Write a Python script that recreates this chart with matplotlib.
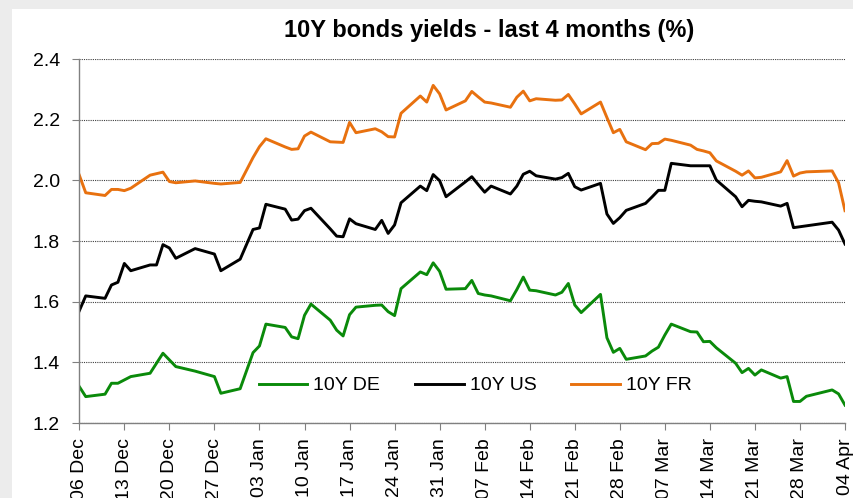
"""10Y bond yields, last 4 months."""

import matplotlib.pyplot as plt
import matplotlib.dates as mdates
import pandas as pd

plt.rcParams["font.family"] = ["Liberation Sans", "DejaVu Sans"]

start = "2012-12-06"
# trading days, counted from 06 Dec 2012
days = [0, 1, 4, 5, 6, 7, 8, 11, 12, 13, 14, 15, 18, 21, 22, 25, 27, 28, 29,
        32, 33, 34, 35, 36, 39, 40, 41, 42, 43, 46, 47, 48, 49, 50, 53, 54,
        55, 56, 57, 60, 61, 62, 63, 64, 67, 68, 69, 70, 71, 74, 75, 76, 77,
        78, 81, 82, 83, 84, 85, 88, 89, 90, 91, 92, 95, 96, 97, 98, 99, 102,
        103, 104, 105, 106, 109, 110, 111, 112, 113, 117, 118, 119]

fr = [2.017, 1.959, 1.950, 1.970, 1.970, 1.966, 1.974, 2.017, 2.022, 2.027,
      1.996, 1.992, 1.998, 1.990, 1.988, 1.993, 2.075, 2.111, 2.137, 2.110,
      2.102, 2.104, 2.146, 2.159, 2.127, 2.126, 2.125, 2.191, 2.157, 2.170,
      2.160, 2.144, 2.143, 2.221, 2.278, 2.258, 2.313, 2.285, 2.232, 2.262,
      2.293, 2.275, 2.258, 2.255, 2.241, 2.274, 2.294, 2.262, 2.269, 2.264,
      2.265, 2.283, 2.252, 2.219, 2.258, 2.207, 2.157, 2.168, 2.127, 2.101,
      2.121, 2.122, 2.136, 2.132, 2.116, 2.102, 2.097, 2.091, 2.064, 2.030,
      2.017, 2.031, 2.008, 2.010, 2.028, 2.065, 2.014, 2.024, 2.028, 2.031,
      1.992, 1.900]

us = [1.570, 1.619, 1.611, 1.655, 1.664, 1.726, 1.702, 1.721, 1.721, 1.788,
      1.777, 1.743, 1.775, 1.757, 1.702, 1.740, 1.838, 1.843, 1.921, 1.905,
      1.869, 1.872, 1.900, 1.908, 1.840, 1.816, 1.814, 1.873, 1.857, 1.838,
      1.868, 1.825, 1.853, 1.926, 1.981, 1.966, 2.019, 1.999, 1.946, 1.995,
      2.012, 1.986, 1.961, 1.981, 1.955, 1.981, 2.020, 2.030, 2.015, 2.004,
      2.009, 2.023, 1.979, 1.968, 1.990, 1.889, 1.858, 1.877, 1.901, 1.924,
      1.945, 1.967, 1.967, 2.056, 2.048, 2.048, 2.048, 2.048, 2.001, 1.946,
      1.913, 1.934, 1.931, 1.929, 1.915, 1.924, 1.844, 1.847, 1.850, 1.862,
      1.836, 1.790]

de = [1.320, 1.287, 1.295, 1.331, 1.331, 1.342, 1.353, 1.364, 1.397, 1.430,
      1.408, 1.386, 1.371, 1.353, 1.298, 1.313, 1.432, 1.454, 1.526, 1.515,
      1.484, 1.478, 1.555, 1.592, 1.539, 1.506, 1.487, 1.557, 1.582, 1.588,
      1.589, 1.567, 1.554, 1.643, 1.698, 1.689, 1.728, 1.700, 1.641, 1.643,
      1.670, 1.627, 1.622, 1.619, 1.603, 1.640, 1.681, 1.638, 1.636, 1.622,
      1.631, 1.660, 1.589, 1.564, 1.624, 1.481, 1.433, 1.446, 1.410, 1.421,
      1.437, 1.450, 1.490, 1.526, 1.501, 1.500, 1.468, 1.469, 1.448, 1.397,
      1.366, 1.380, 1.358, 1.375, 1.348, 1.353, 1.271, 1.271, 1.288, 1.309,
      1.296, 1.259]

dates = pd.Timestamp(start) + pd.to_timedelta(days, unit="D")
tick_dates = pd.date_range(start, "2013-04-04", freq="7D")

fig = plt.figure(figsize=(8.54, 4.98), dpi=100, facecolor="#ececec")
# white slide area behind the chart
fig.patches.append(plt.Rectangle((12 / 854, 0), 1, 1 - 9 / 498,
                                 transform=fig.transFigure,
                                 facecolor="white", edgecolor="none", zorder=-5))
ax = fig.add_axes([79.3 / 854, 1 - 423 / 498, 765.7 / 854, 364 / 498])
ax.set_facecolor("none")

ax.plot(dates, de, color="#0a8a0a", lw=2.1, label="10Y DE")
ax.plot(dates, us, color="black", lw=2.1, label="10Y US")
ax.plot(dates, fr, color="#e8710f", lw=2.1, label="10Y FR")

ax.set_ylim(1.2, 2.4)
ax.set_yticks([1.2, 1.4, 1.6, 1.8, 2.0, 2.2, 2.4])
ax.yaxis.set_major_formatter(plt.FormatStrFormatter("%.1f"))
ax.set_xlim(tick_dates[0], tick_dates[-1])
ax.set_xticks(tick_dates)
ax.xaxis.set_major_formatter(mdates.DateFormatter("%d %b"))
ax.tick_params(axis="x", rotation=90, labelsize=14, length=5, color="#808080", pad=6)
ax.tick_params(axis="y", labelsize=14, length=5, color="#808080", pad=9)

ax.grid(axis="y", color="#404040", linestyle=(0, (1, 1)), lw=0.8)
for s in ["top", "right"]:
    ax.spines[s].set_visible(False)
for s in ["left", "bottom"]:
    ax.spines[s].set_color("#808080")
    ax.spines[s].set_linewidth(1.0)

ax.legend(loc="center", bbox_to_anchor=(0.517, 0.103), ncol=3, frameon=False,
          fontsize=14, handlelength=2.5, handletextpad=0.3, columnspacing=1.8)

fig.text(489 / 854, 1 - 31 / 498, "10Y bonds yields - last 4 months (%)",
         ha="center", va="center", fontsize=17, fontweight="bold")

fig.savefig("out.png", dpi=100, facecolor=fig.get_facecolor())
plt.close(fig)
